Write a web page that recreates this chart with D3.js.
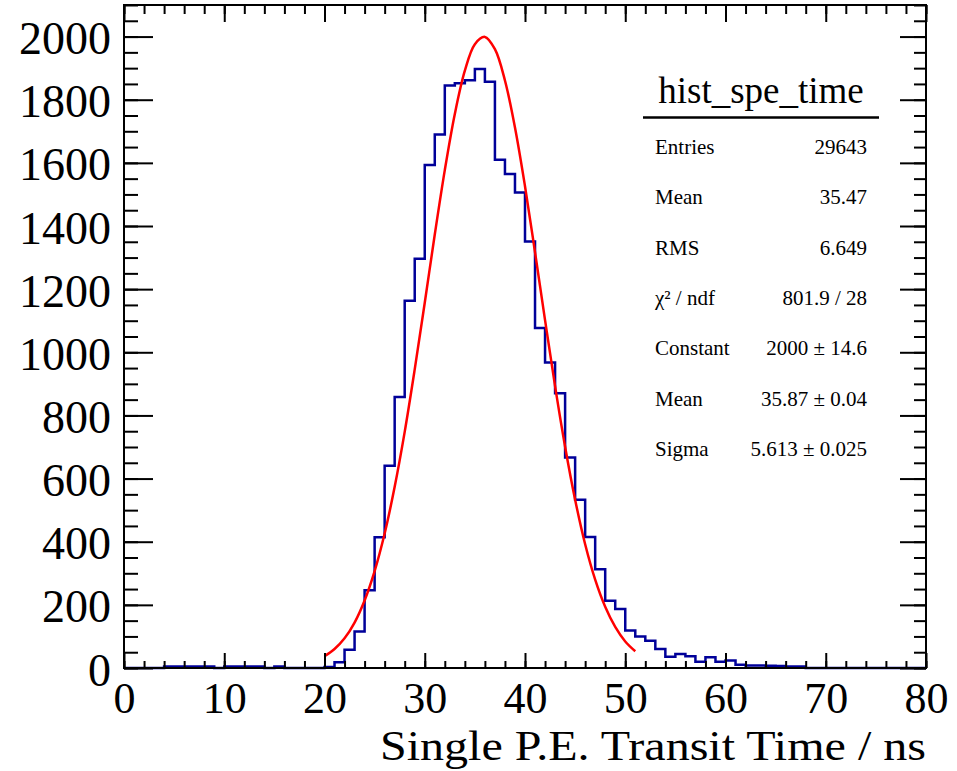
<!DOCTYPE html>
<html>
<head>
<meta charset="utf-8">
<script src="https://cdn.jsdelivr.net/npm/d3@7"></script>
<style>
  body { margin: 0; background: #fff; }
  svg { display: block; }
  svg text { font-family: "Liberation Serif", "Times New Roman", "DejaVu Serif", serif; fill: #000; }
</style>
</head>
<body>
<div id="chart"></div>
<script>
'use strict';

// hist_spe_time: one bin per ns, 0..80 ns
const binCounts = [
  0, 0, 0, 0, 5, 5, 5, 5, 5, 0,
  5, 5, 5, 5, 0, 5, 0, 0, 0, 0,
  3, 18, 58, 116, 246, 414, 641, 858, 1163, 1296,
  1593, 1690, 1845, 1852, 1862, 1897, 1857, 1610, 1565, 1506,
  1351, 1077, 968, 870, 667, 533, 415, 313, 213, 187,
  119, 100, 86, 60, 36, 44, 37, 20, 34, 20,
  24, 10, 8, 8, 7, 6, 5, 5, 0, 0,
  0, 0, 0, 0, 0, 0, 0, 0, 0, 0
];
const binLow = 0;
const binWidth = 1;

// gaus fit curve
const fitTimes = [20, 21, 22, 23, 24, 25, 26, 27, 28, 29, 30, 31, 32, 33, 34, 35,
  36, 37, 38, 39, 40, 41, 42, 43, 44, 45, 46, 47, 48, 49, 50, 51];
const fitValues = [37, 60, 94, 144, 214, 307, 426, 574, 748, 946, 1157, 1373, 1577, 1755, 1892, 1976,
  1999, 1960, 1861, 1712, 1526, 1317, 1102, 893, 701, 533, 392, 280, 194, 130, 84, 53];

const xTicks = [0, 10, 20, 30, 40, 50, 60, 70, 80];
const yTicks = [0, 200, 400, 600, 800, 1000, 1200, 1400, 1600, 1800, 2000];
const xTitle = 'Single P.E. Transit Time / ns';

const statsTitle = 'hist_spe_time';
const statLabels = ['Entries', 'Mean', 'RMS', 'χ² / ndf', 'Constant', 'Mean', 'Sigma'];
const statValues = ['29643', '35.47', '6.649', '801.9 / 28', '2000 ± 14.6', '35.87 ± 0.04', '5.613 ± 0.025'];

const width = 957;
const height = 771;
const margin = { top: 5, right: 31, bottom: 103, left: 124 };
const plotRight = width - margin.right;
const plotBottom = height - margin.bottom;
const serif = '"Liberation Serif", "Times New Roman", "DejaVu Serif", serif';

const xScale = d3.scaleLinear()
  .domain([0, 80])
  .range([margin.left, plotRight]);

const yScale = d3.scaleLinear()
  .domain([0, 2100])
  .range([plotBottom, margin.top]);

const svg = d3.select('#chart').append('svg')
  .attr('width', width)
  .attr('height', height);

svg.append('rect')
  .attr('width', width)
  .attr('height', height)
  .style('fill', '#fff');

// histogram outline
const stepPoints = binCounts.map(function (c, i) {
  return [binLow + i * binWidth, c];
});
stepPoints.push([binLow + binCounts.length * binWidth, binCounts[binCounts.length - 1]]);

const stepLine = d3.line()
  .x(function (d) { return xScale(d[0]); })
  .y(function (d) { return yScale(d[1]); })
  .curve(d3.curveStepAfter);

svg.append('path')
  .datum(stepPoints)
  .attr('d', stepLine)
  .style('fill', 'none')
  .style('stroke', '#000099')
  .style('stroke-width', 2.5);

// fit function
const fitLine = d3.line()
  .x(function (d, i) { return xScale(fitTimes[i]); })
  .y(function (d) { return yScale(d); })
  .curve(d3.curveCatmullRom);

svg.append('path')
  .datum(fitValues)
  .attr('d', fitLine)
  .style('fill', 'none')
  .style('stroke', '#ff0000')
  .style('stroke-width', 2.5);

// axes (ticks on all four sides, pointing inward)
const xMinor = d3.range(0, 81, 2);
const yMinor = d3.range(0, 2101, 50);

function drawAxis(axis, tx, ty, cls) {
  const g = svg.append('g')
    .attr('class', cls)
    .attr('transform', 'translate(' + tx + ',' + ty + ')')
    .call(axis)
    .attr('font-family', serif);
  g.select('.domain').remove();
  g.selectAll('line').style('stroke', '#000').style('stroke-width', 2);
  return g;
}

drawAxis(d3.axisBottom(xScale).tickValues(xMinor).tickSize(-7).tickFormat(''), 0, plotBottom, 'x-minor');
const xAxisG = drawAxis(d3.axisBottom(xScale).tickValues(xTicks).tickSize(-15).tickPadding(14)
  .tickFormat(d3.format('d')), 0, plotBottom, 'x-axis');
drawAxis(d3.axisTop(xScale).tickValues(xMinor).tickSize(-9).tickFormat(''), 0, margin.top, 'x-top-minor');
drawAxis(d3.axisTop(xScale).tickValues(xTicks).tickSize(-17).tickFormat(''), 0, margin.top, 'x-top');

drawAxis(d3.axisLeft(yScale).tickValues(yMinor).tickSize(-14).tickFormat(''), margin.left, 0, 'y-minor');
const yAxisG = drawAxis(d3.axisLeft(yScale).tickValues(yTicks).tickSize(-29).tickPadding(13)
  .tickFormat(d3.format('d')), margin.left, 0, 'y-axis');
drawAxis(d3.axisRight(yScale).tickValues(yMinor).tickSize(-12).tickFormat(''), plotRight, 0, 'y-right-minor');
drawAxis(d3.axisRight(yScale).tickValues(yTicks).tickSize(-26).tickFormat(''), plotRight, 0, 'y-right');

xAxisG.selectAll('text')
  .style('font-size', '44px')
  .style('fill', '#000');

yAxisG.selectAll('text')
  .attr('dy', '0.37em')
  .style('font-size', '46px')
  .style('fill', '#000');

// frame
svg.append('rect')
  .attr('x', margin.left)
  .attr('y', margin.top)
  .attr('width', plotRight - margin.left)
  .attr('height', plotBottom - margin.top)
  .style('fill', 'none')
  .style('stroke', '#000')
  .style('stroke-width', 2);

// axis title, a bit wider than the font gives (as in the original raster)
svg.append('text')
  .attr('x', plotRight)
  .attr('y', 760)
  .attr('text-anchor', 'end')
  .attr('textLength', 546)
  .attr('lengthAdjust', 'spacingAndGlyphs')
  .style('font-size', '43px')
  .text(xTitle);

// stats box
const statsBox = svg.append('g').attr('class', 'stats');
const boxLeft = 643;
const boxRight = 879;

statsBox.append('rect')
  .attr('x', boxLeft)
  .attr('y', 62)
  .attr('width', boxRight - boxLeft)
  .attr('height', 410)
  .style('fill', '#fff');

statsBox.append('text')
  .attr('x', (boxLeft + boxRight) / 2)
  .attr('y', 103)
  .attr('text-anchor', 'middle')
  .style('font-size', '37px')
  .text(statsTitle);

statsBox.append('line')
  .attr('x1', boxLeft)
  .attr('x2', boxRight)
  .attr('y1', 117.5)
  .attr('y2', 117.5)
  .style('stroke', '#000')
  .style('stroke-width', 2.5);

const rowY = d3.scaleLinear()
  .domain([0, statLabels.length - 1])
  .range([154, 456]);

statsBox.selectAll('.stat-label')
  .data(statLabels)
  .enter().append('text')
  .attr('class', 'stat-label')
  .attr('x', 655)
  .attr('y', function (d, i) { return rowY(i); })
  .style('font-size', '21px')
  .text(function (d) { return d; });

statsBox.selectAll('.stat-value')
  .data(statValues)
  .enter().append('text')
  .attr('class', 'stat-value')
  .attr('x', 867)
  .attr('y', function (d, i) { return rowY(i); })
  .attr('text-anchor', 'end')
  .style('font-size', '21px')
  .text(function (d) { return d; });
</script>
</body>
</html>
